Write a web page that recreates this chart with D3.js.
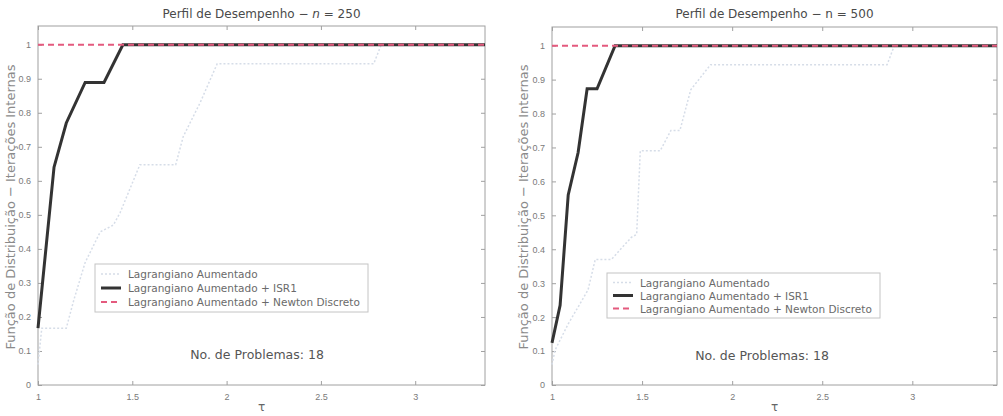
<!DOCTYPE html>
<html>
<head>
<meta charset="utf-8">
<script src="https://cdn.jsdelivr.net/npm/d3@7"></script>
<style>
  body { margin: 0; background: #fff; }
  svg { font-family: "DejaVu Sans", sans-serif; }
</style>
</head>
<body>
<svg width="1003" height="416"></svg>
<script>
let yTicks = [0, 0.1, 0.2, 0.3, 0.4, 0.5, 0.6, 0.7, 0.8, 0.9, 1];
let xTicks = [1, 1.5, 2, 2.5, 3];
let seriesNames = ['Lagrangiano Aumentado', 'Lagrangiano Aumentado + ISR1', 'Lagrangiano Aumentado + Newton Discreto'];

// n = 250
let laTau250  = [1, 1.02, 1.05, 1.15, 1.19, 1.25, 1.33, 1.40, 1.435, 1.54, 1.73, 1.77, 1.86, 1.95, 2.78, 2.82, 3.37];
let laRho250  = [0.06, 0.167, 0.167, 0.167, 0.25, 0.36, 0.45, 0.47, 0.506, 0.647, 0.647, 0.73, 0.83, 0.944, 0.944, 1, 1];
let isrTau250 = [1, 1.085, 1.15, 1.25, 1.35, 1.45, 3.37];
let isrRho250 = [0.167, 0.64, 0.77, 0.889, 0.889, 1, 1];
let ndTau250  = [1, 3.37];
let ndRho250  = [1, 1];

// n = 500
let laTau500  = [1, 1.017, 1.09, 1.2, 1.24, 1.33, 1.44, 1.47, 1.49, 1.6, 1.66, 1.71, 1.77, 1.88, 2.86, 2.9, 3.47];
let laRho500  = [0.06, 0.103, 0.18, 0.28, 0.37, 0.37, 0.435, 0.444, 0.69, 0.69, 0.75, 0.75, 0.87, 0.944, 0.944, 1, 1];
let isrTau500 = [1, 1.045, 1.09, 1.145, 1.195, 1.25, 1.35, 3.47];
let isrRho500 = [0.124, 0.235, 0.56, 0.685, 0.873, 0.873, 1, 1];
let ndTau500  = [1, 3.47];
let ndRho500  = [1, 1];

let svg = d3.select('svg');

let panels = [
  { left: 38, right: 485, top: 26, bottom: 385, xMax: 3.37, n: '250', italic: true,
    la: [laTau250, laRho250], isr: [isrTau250, isrRho250], nd: [ndTau250, ndRho250],
    legend: { x: 95, y: 264, w: 273, h: 48 }, note: { x: 257, y: 359 }, ylab: 15 },
  { left: 552, right: 997, top: 27, bottom: 385, xMax: 3.47, n: '500', italic: false,
    la: [laTau500, laRho500], isr: [isrTau500, isrRho500], nd: [ndTau500, ndRho500],
    legend: { x: 607, y: 273, w: 273, h: 45 }, note: { x: 762, y: 360 }, ylab: 528 }
];

let styles = [
  { stroke: '#d6dde8', width: 1.5, dash: '2,2' },
  { stroke: '#333333', width: 3, dash: null },
  { stroke: '#e45a7e', width: 2, dash: '6,4' }
];

panels.forEach(p => {
  let x = d3.scaleLinear().domain([1, p.xMax]).range([p.left, p.right]);
  let y = d3.scaleLinear().domain([0, 1.055]).range([p.bottom, p.top]);
  let g = svg.append('g');

  // frame
  g.append('rect')
    .attr('x', p.left).attr('y', p.top)
    .attr('width', p.right - p.left).attr('height', p.bottom - p.top)
    .attr('fill', 'none').attr('stroke', '#a0a0a0').attr('stroke-width', 1);

  // axes with inward ticks
  let styleAxis = sel => {
    sel.select('.domain').remove();
    sel.selectAll('line').attr('stroke', '#a0a0a0');
    sel.selectAll('text').attr('fill', '#7a7a7a')
      .style('font-family', '"Liberation Sans", Arial, sans-serif').style('font-size', '9px');
  };
  g.append('g').attr('transform', `translate(0,${p.bottom})`)
    .call(d3.axisBottom(x).tickValues(xTicks).tickSizeInner(-4).tickPadding(9).tickFormat(d3.format('')))
    .call(styleAxis);
  g.append('g').attr('transform', `translate(0,${p.top})`)
    .call(d3.axisTop(x).tickValues(xTicks).tickSizeInner(-4).tickFormat(''))
    .call(styleAxis);
  g.append('g').attr('transform', `translate(${p.left},0)`)
    .call(d3.axisLeft(y).tickValues(yTicks).tickSizeInner(-4).tickPadding(7).tickFormat(d3.format('')))
    .call(styleAxis);
  g.append('g').attr('transform', `translate(${p.right},0)`)
    .call(d3.axisRight(y).tickValues(yTicks).tickSizeInner(-4).tickFormat(''))
    .call(styleAxis);

  // lines
  let line = d3.line().x(d => x(d[0])).y(d => y(d[1]));
  [p.la, p.isr, p.nd].forEach((s, i) => {
    let pts = s[0].map((t, k) => [t, s[1][k]]);
    g.append('path')
      .datum(pts)
      .attr('d', line)
      .attr('fill', 'none')
      .attr('stroke', styles[i].stroke)
      .attr('stroke-width', styles[i].width)
      .attr('stroke-dasharray', styles[i].dash);
  });

  // title
  let title = g.append('text')
    .attr('x', (p.left + p.right) / 2).attr('y', 18)
    .attr('text-anchor', 'middle')
    .attr('fill', '#4a4a4a').style('font-size', '12px');
  title.append('tspan').text('Perfil de Desempenho − ');
  title.append('tspan').text('n').style('font-style', p.italic ? 'italic' : 'normal');
  title.append('tspan').text(' = ' + p.n);

  // x label
  g.append('text')
    .attr('x', (p.left + p.right) / 2).attr('y', 411)
    .attr('text-anchor', 'middle')
    .attr('fill', '#666').style('font-size', '12px')
    .text('τ');

  // y label
  g.append('text')
    .attr('transform', `translate(${p.ylab},207) rotate(-90)`)
    .attr('text-anchor', 'middle')
    .attr('fill', '#8a8a8a').style('font-size', '13px')
    .text('Função de Distribuição − Iterações Internas');

  // legend
  let lg = g.append('g').attr('transform', `translate(${p.legend.x},${p.legend.y})`);
  lg.append('rect')
    .attr('width', p.legend.w).attr('height', p.legend.h)
    .attr('fill', '#fff').attr('stroke', '#c4c4c4');
  let rowH = (p.legend.h - 6) / 3;
  seriesNames.forEach((name, i) => {
    let ry = 3 + rowH * (i + 0.5);
    lg.append('line')
      .attr('x1', 6).attr('x2', 26).attr('y1', ry).attr('y2', ry)
      .attr('stroke', styles[i].stroke)
      .attr('stroke-width', styles[i].width)
      .attr('stroke-dasharray', styles[i].dash);
    lg.append('text')
      .attr('x', 33).attr('y', ry + 4)
      .attr('fill', '#6a6a6a').style('font-size', '10.5px')
      .text(name);
  });

  // note
  g.append('text')
    .attr('x', p.note.x).attr('y', p.note.y)
    .attr('text-anchor', 'middle')
    .attr('fill', '#555').style('font-size', '12.5px')
    .text('No. de Problemas: 18');
});
</script>
</body>
</html>
